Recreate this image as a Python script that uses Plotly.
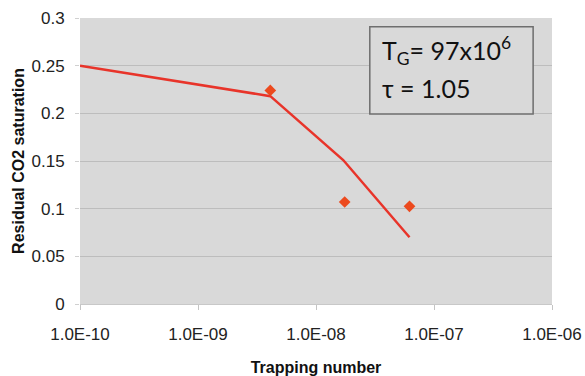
import plotly.graph_objects as go

# Model curve (trapping number vs residual CO2 saturation)
model_x = [1.0e-10, 4.1e-9, 1.7e-8, 6.2e-8]
model_y = [0.25, 0.218, 0.151, 0.070]

# Measured points
meas_x = [4.1e-9, 1.75e-8, 6.2e-8]
meas_y = [0.224, 0.107, 0.1025]

x_ticks = [1e-10, 1e-9, 1e-8, 1e-7, 1e-6]
x_tick_labels = ["1.0E-10", "1.0E-09", "1.0E-08", "1.0E-07", "1.0E-06"]
y_ticks = [0, 0.05, 0.1, 0.15, 0.2, 0.25, 0.3]
y_tick_labels = ["0", "0.05", "0.1", "0.15", "0.2", "0.25", "0.3"]

fig = go.Figure()
fig.add_trace(go.Scatter(
    x=model_x, y=model_y, mode="lines",
    line=dict(color="#e8342a", width=2.5), showlegend=False,
))
fig.add_trace(go.Scatter(
    x=meas_x, y=meas_y, mode="markers",
    marker=dict(symbol="diamond", size=9, color="#ec4a1e"), showlegend=False,
))

# Parameter box
fig.add_shape(
    type="rect", xref="paper", yref="paper",
    x0=0.614, x1=0.960, y0=0.664, y1=0.969,
    line=dict(color="#6e6e6e", width=1.5), fillcolor="#d9d9d9",
)
box_font = dict(family="Lato, Carlito, Liberation Sans", size=25, color="#111111")
fig.add_annotation(
    xref="paper", yref="paper", x=0.636, y=0.885, xanchor="left", yanchor="middle",
    text="T<sub>G</sub>= 97x10<sup>6</sup>", showarrow=False, font=box_font,
)
fig.add_annotation(
    xref="paper", yref="paper", x=0.636, y=0.755, xanchor="left", yanchor="middle",
    text="τ = 1.05", showarrow=False, font=box_font,
)

fig.update_layout(
    width=585, height=376,
    margin=dict(l=80, r=33, t=18, b=72),
    paper_bgcolor="white", plot_bgcolor="#d9d9d9",
    font=dict(family="Liberation Sans, Arial", size=17, color="#222222"),
    xaxis=dict(
        type="log", range=[-10, -6], tickvals=x_ticks, ticktext=x_tick_labels,
        automargin=False,
        showgrid=False, ticks="outside", ticklen=5, tickcolor="#c4c4c4",
        ticklabelstandoff=10,
        showline=True, linecolor="#c8c8c8", zeroline=False,
        title=dict(text="<b>Trapping number</b>", standoff=20,
                   font=dict(size=16, color="#111111")),
    ),
    yaxis=dict(
        range=[0, 0.3], tickvals=y_ticks, ticktext=y_tick_labels,
        automargin=False,
        showgrid=True, gridcolor="#bdbdbd", gridwidth=1, zeroline=False,
        ticks="outside", ticklen=4, tickcolor="#d0d0d0",
        ticklabelstandoff=7,
        title=dict(text="<b>Residual CO2 saturation</b>", standoff=2,
                   font=dict(size=16, color="#111111")),
    ),
)

fig.write_html("out.html")
